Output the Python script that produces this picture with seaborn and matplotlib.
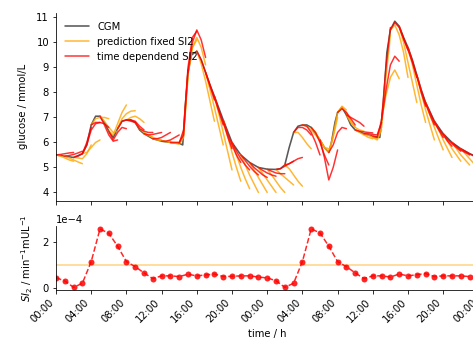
import matplotlib
matplotlib.use("Agg")

import matplotlib.pyplot as plt
import numpy as np
import pandas as pd
import seaborn as sns
from matplotlib.lines import Line2D
from matplotlib.ticker import FuncFormatter, MultipleLocator

sns.set_style("ticks")
plt.rcParams["font.family"] = ["DejaVu Sans"]
plt.rcParams["xtick.major.size"] = 3.5
plt.rcParams["ytick.major.size"] = 3.5
plt.rcParams["axes.edgecolor"] = "black"
plt.rcParams["text.color"] = "black"
plt.rcParams["axes.labelcolor"] = "black"
plt.rcParams["xtick.color"] = "black"
plt.rcParams["ytick.color"] = "black"

# CGM trace (hours since start, mmol/L)
cgm_time = [0, 1, 2, 3, 3.5, 4, 4.5, 5, 5.5, 6, 6.5, 7, 7.5, 8, 8.5, 9, 9.5, 10, 10.5, 11,
            12, 13, 14, 14.4, 14.7, 15, 15.4, 16, 16.5, 17, 17.5, 18, 19, 20, 21, 22, 23, 24, 25,
            25.5, 26, 26.5, 27, 27.5, 28, 28.5, 29, 29.5, 30, 30.5, 31, 31.3, 31.7, 32, 32.5, 33,
            33.5, 34, 35, 36, 36.8, 37.2, 37.6, 38, 38.5, 39, 39.5, 40, 40.5, 41, 41.5, 42,
            43, 44, 45, 46, 47, 48]
cgm = [5.5, 5.45, 5.4, 5.55, 5.9, 6.7, 7.05, 7.05, 6.8, 6.45, 6.2, 6.55, 6.85, 6.9, 6.9, 6.8, 6.5,
       6.35, 6.25, 6.15, 6.05, 6.0, 5.97, 5.9, 7.5, 8.8, 9.5, 9.65, 9.3, 8.8, 8.3, 7.85, 6.9, 6.0,
       5.5, 5.2, 5.0, 4.93, 4.92, 4.95, 5.1, 5.8, 6.4, 6.65, 6.7, 6.7, 6.6, 6.35, 6.1, 5.8, 5.6,
       6.0, 6.8, 7.2, 7.4, 7.1, 6.7, 6.5, 6.35, 6.25, 6.2, 7.6, 9.6, 10.5, 10.85, 10.65, 10.2,
       9.8, 9.3, 8.7, 8.1, 7.6, 6.85, 6.35, 6.0, 5.75, 5.55, 5.4]

# hourly predictions, 2 h ahead
pred_start = list(range(47))
horizon = [0, 0.5, 1, 1.5, 2]
pred_fixed = [
    [5.5, 5.45, 5.38, 5.3, 5.25], [5.45, 5.38, 5.3, 5.22, 5.15], [5.4, 5.38, 5.35, 5.55, 5.9],
    [5.55, 5.6, 5.8, 6.0, 6.1], [6.7, 6.95, 7.0, 7.0, 6.95], [7.05, 6.85, 6.6, 6.4, 6.45],
    [6.45, 6.3, 6.75, 7.2, 7.5], [6.55, 6.95, 7.15, 7.25, 7.27], [6.9, 7.0, 7.05, 6.95, 6.8],
    [6.8, 6.55, 6.4, 6.3, 6.2], [6.35, 6.28, 6.2, 6.15, 6.1], [6.15, 6.1, 6.07, 6.05, 6.05],
    [6.05, 6.03, 6.0, 6.0, 6.0], [6.0, 5.97, 5.93, 6.2, 8.6], [5.97, 6.4, 8.7, 9.8, 10.1],
    [8.8, 9.8, 10.2, 9.8, 9.1], [9.65, 9.15, 8.45, 7.65, 6.85], [8.8, 8.1, 7.4, 6.65, 5.9],
    [7.85, 7.15, 6.4, 5.65, 4.9], [6.9, 6.25, 5.6, 5.0, 4.45], [6.0, 5.5, 5.0, 4.55, 4.15],
    [5.5, 5.1, 4.7, 4.35, 4.0], [5.2, 4.9, 4.6, 4.3, 4.0], [5.0, 4.75, 4.5, 4.25, 4.0],
    [4.93, 4.7, 4.45, 4.2, 4.0], [4.92, 4.75, 4.6, 4.45, 4.3], [5.1, 4.95, 4.7, 4.45, 4.25],
    [6.4, 6.4, 6.2, 5.95, 5.75], [6.7, 6.65, 6.5, 6.3, 6.05], [6.6, 6.4, 6.1, 5.8, 5.75],
    [6.1, 5.8, 5.6, 6.2, 7.0], [5.6, 6.3, 7.2, 7.45, 7.3], [7.2, 7.4, 7.2, 6.85, 6.6],
    [7.1, 6.8, 6.6, 6.5, 6.45], [6.5, 6.4, 6.3, 6.2, 6.15], [6.35, 6.28, 6.2, 6.1, 6.5],
    [6.25, 6.15, 6.6, 8.6, 10.3], [6.9, 7.9, 8.6, 8.9, 8.55], [10.5, 10.7, 10.3, 9.6, 8.6],
    [10.65, 10.0, 9.2, 8.4, 7.6], [9.8, 9.1, 8.3, 7.5, 6.8], [8.7, 8.0, 7.3, 6.7, 6.1],
    [7.6, 7.1, 6.6, 6.15, 5.7], [6.85, 6.5, 6.1, 5.75, 5.4], [6.35, 6.05, 5.75, 5.5, 5.25],
    [6.0, 5.75, 5.5, 5.3, 5.1], [5.75, 5.55, 5.35, 5.15, 4.95],
]
pred_td = [
    [5.5, 5.52, 5.55, 5.58, 5.6], [5.45, 5.48, 5.52, 5.58, 5.65], [5.4, 5.45, 5.55, 6.0, 6.6],
    [5.55, 5.9, 6.5, 6.75, 6.8], [6.7, 6.8, 6.8, 6.75, 6.6], [7.05, 6.7, 6.3, 6.05, 6.1],
    [6.45, 6.1, 6.4, 6.6, 6.55], [6.55, 6.85, 6.9, 6.85, 6.8], [6.9, 6.9, 6.85, 6.65, 6.5],
    [6.8, 6.55, 6.45, 6.4, 6.4], [6.35, 6.3, 6.32, 6.36, 6.4], [6.15, 6.15, 6.2, 6.3, 6.4],
    [6.05, 6.05, 6.1, 6.2, 6.3], [6.0, 6.0, 6.0, 6.3, 8.9], [5.97, 6.5, 9.0, 10.2, 10.45],
    [8.8, 10.0, 10.5, 10.1, 9.4], [9.65, 9.3, 8.8, 8.25, 7.7], [8.8, 8.3, 7.8, 7.25, 6.7],
    [7.85, 7.3, 6.8, 6.25, 5.75], [6.9, 6.35, 5.9, 5.5, 5.2], [6.0, 5.65, 5.35, 5.1, 4.9],
    [5.5, 5.28, 5.05, 4.85, 4.7], [5.2, 5.0, 4.85, 4.7, 4.6], [5.0, 4.88, 4.78, 4.7, 4.65],
    [4.93, 4.85, 4.78, 4.75, 4.75], [4.92, 4.95, 5.05, 5.15, 5.25], [5.1, 5.15, 5.25, 5.35, 5.4],
    [6.4, 6.6, 6.6, 6.5, 6.3], [6.7, 6.65, 6.4, 6.0, 5.5], [6.6, 6.4, 6.0, 5.5, 5.1],
    [6.1, 5.4, 4.5, 5.0, 5.7], [5.6, 5.9, 6.4, 6.6, 6.55], [7.2, 7.35, 7.2, 6.95, 6.7],
    [7.1, 7.0, 6.9, 6.8, 6.65], [6.5, 6.45, 6.42, 6.4, 6.38], [6.35, 6.35, 6.32, 6.3, 6.8],
    [6.25, 6.2, 6.9, 9.0, 10.6], [6.9, 8.1, 9.1, 9.45, 9.25], [10.5, 10.8, 10.6, 10.15, 9.7],
    [10.65, 10.15, 9.7, 9.2, 8.6], [9.8, 9.25, 8.65, 8.0, 7.45], [8.7, 8.1, 7.55, 7.1, 6.7],
    [7.6, 7.2, 6.8, 6.5, 6.2], [6.85, 6.55, 6.3, 6.05, 5.85], [6.35, 6.12, 5.95, 5.8, 5.65],
    [6.0, 5.85, 5.7, 5.6, 5.5], [5.75, 5.65, 5.55, 5.45, 5.35],
]

# hourly insulin sensitivity (x 1e-4)
si_hours = list(range(48))
si_values = [0.46, 0.32, 0.04, 0.22, 1.16, 2.58, 2.39, 1.83, 1.16, 0.94, 0.67, 0.42, 0.54, 0.54,
             0.51, 0.61, 0.54, 0.58, 0.62, 0.51, 0.52, 0.54, 0.54, 0.49, 0.45, 0.33, 0.04, 0.22,
             1.16, 2.58, 2.41, 1.83, 1.16, 0.94, 0.67, 0.42, 0.54, 0.54, 0.49, 0.62, 0.54, 0.59,
             0.64, 0.51, 0.54, 0.54, 0.54, 0.51]
si_fixed = 1.0


def to_long(preds):
    rows = []
    for k, vals in zip(pred_start, preds):
        for off, v in zip(horizon, vals):
            rows.append({"start": k, "time": k + off, "glucose": v})
    return pd.DataFrame(rows)


fig = plt.figure(figsize=(473 / 72, 340 / 72), dpi=72)
ax1 = fig.add_axes([0.1184, 0.4088, 0.893, 0.554])
ax2 = fig.add_axes([0.1184, 0.1462, 0.893, 0.189], sharex=ax1)

sns.lineplot(x=cgm_time, y=cgm, color="k", alpha=0.65, lw=1.6, ax=ax1)
sns.lineplot(data=to_long(pred_fixed), x="time", y="glucose", units="start", estimator=None,
             color="orange", alpha=0.8, lw=1.5, ax=ax1, legend=False)
sns.lineplot(data=to_long(pred_td), x="time", y="glucose", units="start", estimator=None,
             color="red", alpha=0.8, lw=1.5, ax=ax1, legend=False)

handles = [
    Line2D([], [], color="k", alpha=0.65, lw=1.6),
    Line2D([], [], color="orange", alpha=0.8, lw=1.5),
    Line2D([], [], color="red", alpha=0.8, lw=1.5),
]
ax1.legend(handles, ["CGM", "prediction fixed SI2", "time dependend SI2"],
           loc="upper left", frameon=False, handlelength=2.4)
ax1.set_xlabel("")
ax1.set_ylabel("glucose / mmol/L", labelpad=8)
ax1.yaxis.set_major_locator(MultipleLocator(1))
plt.setp(ax1.get_xticklabels(), visible=False)

si = np.array(si_values) * 1e-4
ax2.axhline(si_fixed * 1e-4, color="orange", alpha=0.5, lw=1.5)
sns.lineplot(x=si_hours, y=si, color="red", alpha=0.85, lw=1.5, linestyle="--",
             marker="o", markersize=6, markeredgecolor="red", markeredgewidth=0, ax=ax2)
ax2.yaxis.set_major_locator(MultipleLocator(2e-4))
ax2.ticklabel_format(axis="y", style="sci", scilimits=(0, 0))
ax2.set_ylabel(r"$SI_2$ / min$^{-1}$mUL$^{-1}$", labelpad=8)
ax2.set_xlabel("time / h")

ax2.set_xlim(0, 48)
ax2.xaxis.set_major_locator(MultipleLocator(4))
ax2.xaxis.set_major_formatter(FuncFormatter(lambda h, _: f"{int(round(h)) % 24:02d}:00"))
for lab in ax2.get_xticklabels():
    lab.set_rotation(45)
    lab.set_ha("right")

sns.despine(ax=ax1)
sns.despine(ax=ax2)
fig.align_ylabels([ax1, ax2])

fig.savefig("out.png", dpi=72)
